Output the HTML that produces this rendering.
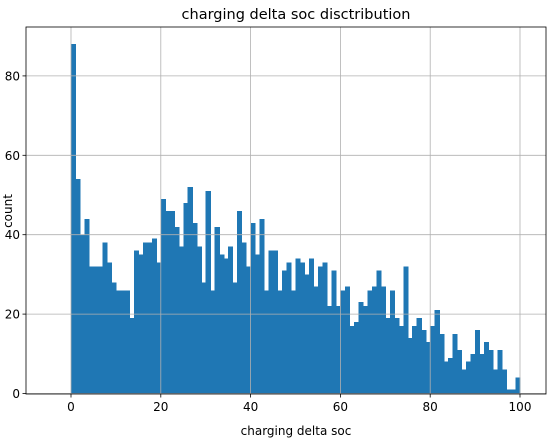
<!DOCTYPE html>
<html><head><meta charset="utf-8"><style>
body{margin:0;background:#fff;}
svg text{font-family:"DejaVu Sans","Liberation Sans",sans-serif;fill:#000;}
</style></head><body>
<svg id="chart" width="550" height="439" xmlns="http://www.w3.org/2000/svg">
<rect width="550" height="439" fill="#fff"/>
<g id="bars" shape-rendering="crispEdges"></g>
<g id="grid"></g>
<g id="axes"></g>
<text x="296" y="19" font-size="14.5" text-anchor="middle">charging delta soc disctribution</text>
<text x="296" y="435" font-size="12" text-anchor="middle">charging delta soc</text>
<text x="12" y="211" font-size="12" text-anchor="middle" transform="rotate(-90 12 211)">count</text>
</svg>
<script>
const binStarts = Array.from({length:100},(_, i)=>i);
const counts = [88,54,40,44,32,32,32,38,33,28,26,26,26,19,36,35,38,38,39,33,
49,46,46,42,37,48,52,43,37,28,51,26,42,35,34,37,28,46,38,32,
43,35,44,26,36,36,26,31,33,26,34,33,30,34,27,32,33,22,31,22,
26,27,17,18,23,22,26,27,31,27,19,26,19,17,32,14,17,19,16,13,
17,21,15,8,9,15,11,6,8,10,16,10,13,11,6,11,6,1,1,4];
const xTicks = [0,20,40,60,80,100];
const yTicks = [0,20,40,60,80];
const binWidth = 1;
const L=26,R=546,T=27,B=394;
const x = v => 71 + v*4.49;
const y = v => 393.5 - v*3.97;
const NS="http://www.w3.org/2000/svg";
function mk(tag, attrs, parent){const e=document.createElementNS(NS,tag);for(const k in attrs)e.setAttribute(k,attrs[k]);parent.appendChild(e);return e;}
const grid=document.getElementById('grid'), bars=document.getElementById('bars'), axes=document.getElementById('axes');
xTicks.forEach(t=>{
  const g=mk('line',{x1:x(t),x2:x(t),y1:T,y2:B,stroke:'#b0b0b0','stroke-width':0.8},grid);
  
  
  const tk=mk('line',{x1:x(t),x2:x(t),y1:B,y2:B+3.5,stroke:'#000','stroke-width':0.8},axes);
  
  
  const lb=mk('text',{x:x(t),y:B+17,'font-size':12,'text-anchor':'middle'},axes);
  lb.textContent=t;
  
  
});
yTicks.forEach(t=>{
  const g=mk('line',{x1:L,x2:R,y1:y(t),y2:y(t),stroke:'#b0b0b0','stroke-width':0.8},grid);
  
  
  const tk=mk('line',{x1:L-3.5,x2:L,y1:y(t),y2:y(t),stroke:'#000','stroke-width':0.8},axes);
  
  
  const lb=mk('text',{x:L-6,y:y(t)+4.5,'font-size':12,'text-anchor':'end'},axes);
  lb.textContent=t;
  
  
});
counts.forEach((c,i)=>{
  const x0=x(binStarts[i]), x1=x(binStarts[i]+binWidth);
  const r=mk('rect',{x:x0,y:y(c),width:x1-x0+0.6,height:y(0)-y(c),fill:'#1f77b4'},bars);
  
  
});
const f=mk('rect',{x:L,y:T,width:R-L,height:B-T,fill:'none',stroke:'#000','stroke-width':0.8},axes);


</script>
</body></html>
